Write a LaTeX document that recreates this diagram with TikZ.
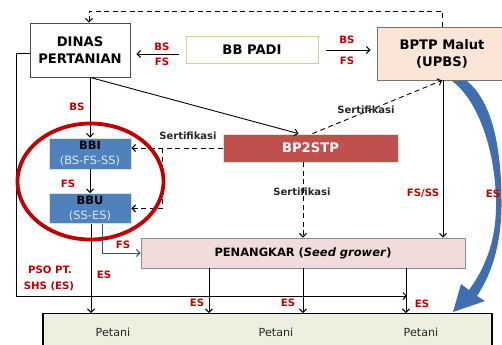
\documentclass[tikz,border=0pt]{standalone}
\usepackage{fontspec}
\setmainfont{DejaVu Sans}
\usetikzlibrary{arrows.meta,calc}
\definecolor{labred}{HTML}{C00000}
\definecolor{boxblue}{HTML}{4F81BD}
\definecolor{bpred}{HTML}{C0504D}
\definecolor{pinkfill}{HTML}{F2DCDB}
\definecolor{bptpfill}{HTML}{FBE5D6}
\definecolor{greenfill}{HTML}{EBF1DE}
\definecolor{padigreen}{HTML}{C3D69B}
\definecolor{navyline}{HTML}{2F5597}
\definecolor{bigblue}{HTML}{3F6FAE}
\definecolor{lighttext}{HTML}{DCE6F2}
\tikzset{
  conn/.style={line width=0.9bp, -{Straight Barb[length=3.5bp,width=7bp,line width=1bp]}},
  dconn/.style={conn, dash pattern=on 5bp off 3.5bp},
  lab/.style={text=labred, font=\fontsize{10.2}{11}\selectfont\bfseries, inner sep=0pt},
  cert/.style={text=black!85, font=\fontsize{10}{11}\selectfont\bfseries, inner sep=0pt},
  bigtext/.style={font=\fontsize{13.2}{16.8}\selectfont\bfseries, align=center, inner sep=0pt},
  bluebox/.style={draw=black!12, fill=boxblue, line width=0.8bp, minimum width=82bp,
    align=center, inner sep=0pt, font=\fontsize{11.5}{15.5}\selectfont},
  pettext/.style={font=\fontsize{11.2}{13}\selectfont, inner sep=0pt, text=black!85}
}
\begin{document}
\begin{tikzpicture}[x=1bp,y=-1bp]
\useasboundingbox (0,0) rectangle (502,344);
\clip (0,0) rectangle (502,344);

% boxes
\node[bigtext, draw=black!70, fill=white, line width=0.8bp, minimum width=100bp, minimum height=54bp] (dinas) at (80,50) {DINAS\\PERTANIAN};
\node[bigtext, draw=padigreen, fill=white, line width=1bp, minimum width=132bp, minimum height=27bp] (padi) at (252,50) {BB PADI};
\node[bigtext, draw=black!55, fill=bptpfill, line width=0.9bp, minimum width=130bp, minimum height=53bp] (bptp) at (442,53.5) {BPTP Malut\\(UPBS)};
\node[bigtext, draw=black!12, fill=bpred, line width=0.8bp, minimum width=175bp, minimum height=28bp, text=white] (bp2stp) at (310.5,148) {BP2STP};
\node[bluebox, minimum height=31bp] (bbi) at (90,153.5) {{\bfseries BBI}\\{\color{lighttext}(BS-FS-SS)}};
\node[bluebox, minimum height=30bp] (bbu) at (90,208.5) {{\bfseries BBU}\\{\color{lighttext}(SS-ES)}};
\node[draw=black!45, fill=pinkfill, line width=0.9bp, minimum width=324bp, minimum height=30bp, inner sep=0pt, font=\fontsize{11.5}{14}\selectfont\bfseries] (pen) at (303,253) {PENANGKAR (\textit{Seed grower})};
\node[draw=black, fill=greenfill, line width=1.4bp, minimum width=449bp, minimum height=70bp, anchor=north] (petani) at (267.5,313) {};
\node[pettext] (p1) at (113,332) {Petani};
\node[pettext] (p2) at (276,332) {Petani};
\node[pettext] (p3) at (421,332) {Petani};

% connectors
\coordinate (tl) at (89,11);
\draw[dconn] (bptp.north) |- (tl) -- (tl |- dinas.north);
\draw[conn, shorten <=7bp, shorten >=6bp] ([yshift=-4bp]padi.west) -- ([yshift=-4bp]padi.west -| dinas.east);
\draw[conn, shorten <=7bp, shorten >=6bp] (padi.east) -- (padi.east -| bptp.west);
\draw[conn] (dinas.south -| bbi.north) -- (bbi.north);
\draw[conn] ([xshift=10bp]dinas.south) -- ([xshift=-12bp]bp2stp.north);
\draw[dconn] ([xshift=2bp]bp2stp.north) -- (bptp.south);
\draw[dconn] (bp2stp.west) -- (bp2stp.west -| bbi.east);
\coordinate (vd) at (162,148);
\draw[dconn] (vd) |- (bbu.east);
\draw[conn] (bbi.south) -- (bbu.north);
\draw[conn] ([xshift=1bp]bbu.south) -- ([xshift=1bp]bbu.south |- petani.north);
\draw[conn, draw=navyline] ([xshift=12bp]bbu.south) |- (pen.west);
\draw[dconn] (bp2stp.south -| pen.north) -- (pen.north);
\draw[conn] ([xshift=1bp]bptp.south) -- ([xshift=1bp]bptp.south |- pen.north);
\draw[conn] ([xshift=-94bp]pen.south) -- ([xshift=-94bp]pen.south |- petani.north);
\draw[conn] (pen.south) -- (pen.south |- petani.north);
\draw[conn] ([xshift=103bp]pen.south) -- ([xshift=103bp]pen.south |- petani.north);
\coordinate (lc) at (16,296);
\coordinate (lend) at (407,296);
\draw[conn] ([yshift=-3bp]dinas.west) -| (lc) -- (lend);

% red ellipse
\draw[labred, line width=3.8bp] (90.5,181.5) ellipse [x radius=73bp, y radius=58bp];

% big curved arrow
\fill[bigblue] (452,81) .. controls (478,100) and (495,150) .. (496,200)
  .. controls (497,240) and (485,268) .. (469,290) -- (461,284) -- (453,312) -- (485,301) -- (477,296)
  .. controls (493,272) and (502,240) .. (501.5,200)
  .. controls (501,140) and (490,100) .. (467,81) -- cycle;

% labels
\node[lab] (l1) at (162,47) {BS};
\node[lab] (l2) at (162,62) {FS};
\node[lab] (l3) at (347,40) {BS};
\node[lab] (l4) at (347,61) {FS};
\node[lab] (l5) at (77,107) {BS};
\node[lab] (l6) at (68,184) {FS};
\node[lab] (l7) at (123,245) {FS};
\node[lab] (l8) at (104,275) {ES};
\node[lab] (l9) at (423,193) {FS/SS};
\node[lab] (l10) at (493,194) {ES};
\node[lab] (l11) at (197,303) {ES};
\node[lab] (l12) at (288,303) {ES};
\node[lab] (l13) at (422,304) {ES};
\node[lab] (l14) at (50,270) {PSO PT.};
\node[lab] (l15) at (49,286) {SHS (ES)};
\node[cert] (c1) at (188,136) {Sertifikasi};
\node[cert] (c2) at (366,110) {Sertifikasi};
\node[cert] (c3) at (302,192) {Sertifikasi};
\end{tikzpicture}
\end{document}
